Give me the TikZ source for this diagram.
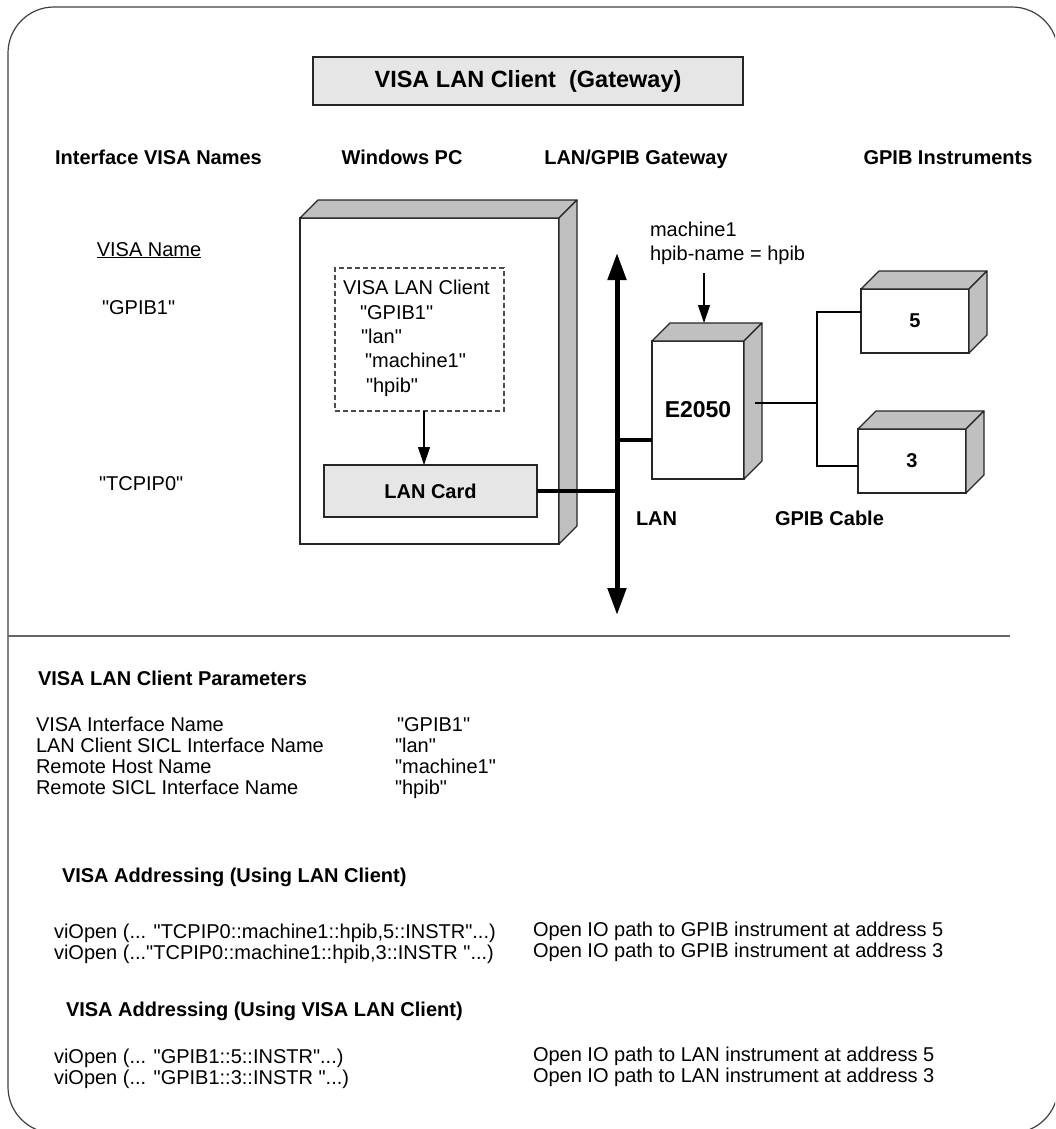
\documentclass[tikz,border=0pt]{standalone}
\usepackage{fontspec}
\setmainfont{Liberation Sans}
\newfontfamily\af{Liberation Sans}
\usetikzlibrary{arrows.meta}
\definecolor{facegray}{HTML}{C0C0C0}
\definecolor{lightfill}{HTML}{E6E6E6}
\definecolor{framegray}{HTML}{404040}
\begin{document}
\begin{tikzpicture}[x=1pt,y=-1pt,
  every node/.style={inner sep=0pt, outer sep=0pt},
  body/.style={font=\af\fontsize{20}{24}\selectfont, anchor=base west},
  bodyc/.style={font=\af\fontsize{20}{24}\selectfont, anchor=base},
  hdr/.style={font=\af\fontsize{20}{24}\selectfont\bfseries, anchor=base},
  hdrw/.style={font=\af\fontsize{20}{24}\selectfont\bfseries, anchor=base west},
  hdrc/.style={font=\af\fontsize{20}{24}\selectfont\bfseries},
  box3d/.style={draw=black!85, fill=white, line width=1.1pt},
  face/.style={draw=black!85, fill=facegray, line width=1.1pt, line join=round},
  thinline/.style={line width=1.1pt},
  arr/.style={line width=1.1pt, -{Triangle[length=18pt,width=12pt]}},
  lanline/.style={line width=4.5pt},
  busline/.style={line width=5pt, {Triangle[length=27pt,width=18pt]}-{Triangle[length=27pt,width=18pt]}},
]
\useasboundingbox (0,0) rectangle (1055,1129);
\begin{scope}
  \clip (0,0) rectangle (1055,1129);
  \draw[framegray, line width=1.2pt, rounded corners=46pt] (8,7) rectangle (1058,1133);
\end{scope}

% title
\node[draw=black!85, fill=lightfill, line width=1.2pt, minimum width=430pt, minimum height=48pt,
      font=\af\fontsize{23.5}{28}\selectfont\bfseries] (title) at (528,81) {VISA LAN Client\ \ (Gateway)};

% column headers
\node[hdr] (h1) at (158.5,164) {Interface VISA Names};
\node[hdr] (h2) at (402,164) {Windows PC};
\node[hdr] (h3) at (636,164) {LAN/GPIB Gateway};
\node[hdr] (h4) at (948,164) {GPIB Instruments};

% left column
\node[bodyc] (vn) at (149,256) {\underline{VISA Name}};
\node[body] (g1) at (102,314) {"GPIB1"};
\node[body] (tc) at (99,490) {"TCPIP0"};

% boxes
\node[box3d, minimum width=259pt, minimum height=326pt] (pc) at (429.5,381) {};
\node[box3d, minimum width=92pt, minimum height=138pt, font=\af\fontsize{23}{28}\selectfont\bfseries] (gw) at (698,410) {E2050};
\node[box3d, minimum width=108pt, minimum height=64pt, hdrc] (i5) at (915,321) {5};
\node[box3d, minimum width=108pt, minimum height=64pt, hdrc] (i3) at (912,461) {3};
\foreach \n in {pc,gw,i5,i3}{
  \filldraw[face] (\n.north west) -- ++(18,-18) -- ([shift={(18,-18)}]\n.north east) -- (\n.north east) -- cycle;
  \filldraw[face] (\n.north east) -- ++(18,-18) -- ([shift={(18,-18)}]\n.south east) -- (\n.south east) -- cycle;
}

% VISA LAN client dashed box
\node[draw=black!70, dash pattern=on 5pt off 3pt, line width=1.1pt, minimum width=169pt, minimum height=143pt] (db) at (419.5,339.5) {};
\node[body] (d1) at (343,294) {VISA LAN Client};
\node[body] (d2) at (360,319) {"GPIB1"};
\node[body] (d3) at (361,343) {"lan"};
\node[body] (d4) at (365,367) {"machine1"};
\node[body] (d5) at (366,392) {"hpib"};

% LAN card
\node[draw=black!85, fill=lightfill, line width=1.1pt, minimum width=213pt, minimum height=52pt, hdrc] (card) at (430.5,491) {LAN Card};
\coordinate (ds) at ([xshift=4.5pt]db.south);
\draw[arr] (ds) -- (ds |- card.north);

% LAN bus
\coordinate (bt) at (617,253);
\coordinate (bb) at (617,615);
\draw[busline] (bt) -- (bb);
\draw[lanline] (card.east) -- (card.east -| bt);
\coordinate (lj) at (617,440);
\draw[lanline] (lj) -- (lj -| gw.west);

% gateway label
\node[body] (m1) at (650,236) {machine1};
\node[body] (m2) at (650,260) {hpib-name = hpib};
\coordinate (ma) at (704,273);
\coordinate (mb) at ([shift={(6,-18)}]gw.north);
\draw[arr] (ma) -- (mb);

% GPIB cable
\coordinate (gs) at (755,403);
\coordinate (c5) at (817,312);
\coordinate (c3) at (817,466);
\draw[thinline] (gs) -- (gs -| c5);
\draw[thinline] (c5 -| i5.west) -- (c5) -- (c3) -- (c3 -| i3.west);

\node[hdrw] (lanl) at (636,525) {LAN};
\node[hdrw] (gpc) at (775,525) {GPIB Cable};

% separator
\coordinate (s1) at (8,636);
\coordinate (s2) at (1010,636);
\draw[black!60, line width=1.2pt] (s1) -- (s2);

% parameters
\node[hdrw] (ph) at (38,685) {VISA LAN Client Parameters};
\node[body] (p1) at (36,731) {VISA Interface Name};
\node[body] (p2) at (36,752) {LAN Client SICL Interface Name};
\node[body] (p3) at (36,773) {Remote Host Name};
\node[body] (p4) at (36,794) {Remote SICL Interface Name};
\node[body] (v1) at (397,731) {"GPIB1"};
\node[body] (v2) at (395,752) {"lan"};
\node[body] (v3) at (395,773) {"machine1"};
\node[body] (v4) at (395,794) {"hpib"};

% addressing 1
\node[hdrw] (a1) at (62,882) {VISA Addressing (Using LAN Client)};
\node[body] (o1) at (54,938) {viOpen (... "TCPIP0::machine1::hpib,5::INSTR"...)};
\node[body] (o2) at (54,959) {viOpen (..."TCPIP0::machine1::hpib,3::INSTR "...)};
\node[body] (e1) at (533,936) {Open IO path to GPIB instrument at address 5};
\node[body] (e2) at (533,957) {Open IO path to GPIB instrument at address 3};

% addressing 2
\node[hdrw] (a2) at (66,1016) {VISA Addressing (Using VISA LAN Client)};
\node[body] (o3) at (54,1063) {viOpen (... "GPIB1::5::INSTR"...)};
\node[body] (o4) at (54,1084) {viOpen (... "GPIB1::3::INSTR "...)};
\node[body] (e3) at (533,1061) {Open IO path to LAN instrument at address 5};
\node[body] (e4) at (533,1082) {Open IO path to LAN instrument at address 3};
\end{tikzpicture}
\end{document}
